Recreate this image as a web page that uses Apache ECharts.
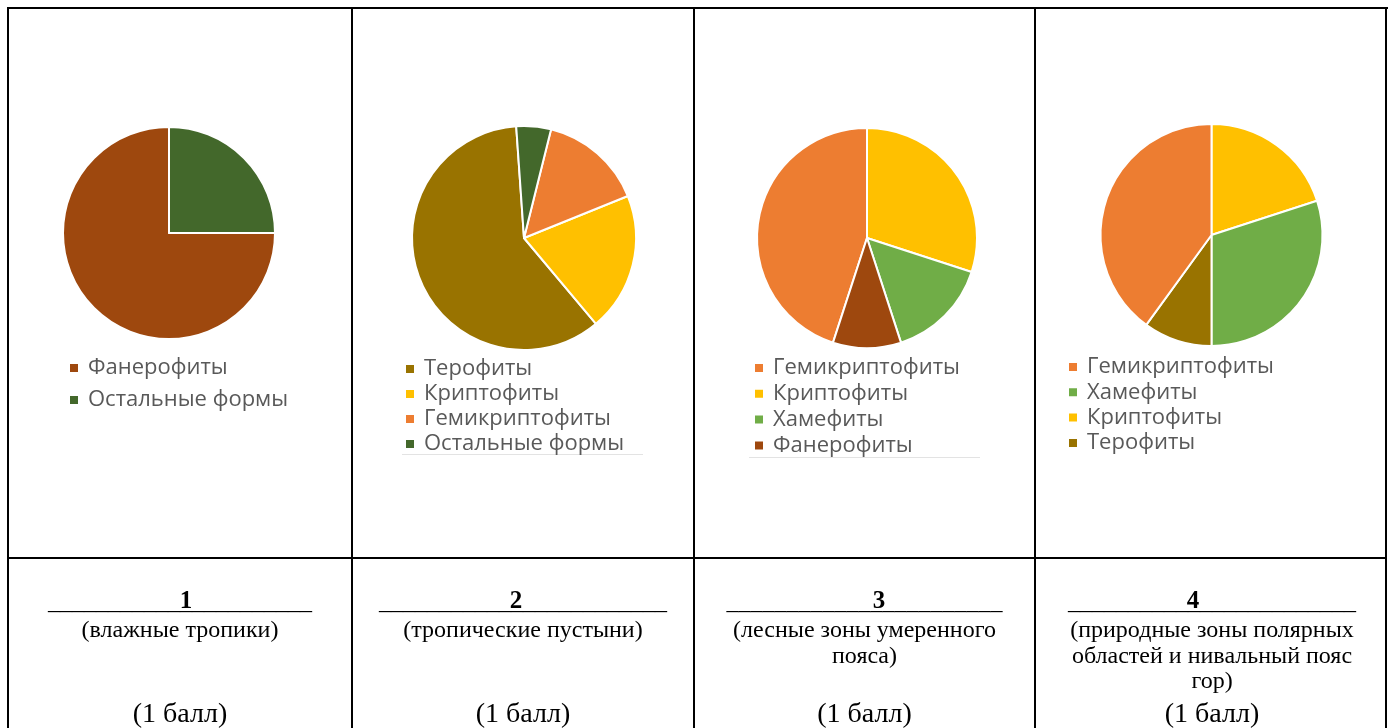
<!DOCTYPE html>
<html>
<head>
<meta charset="utf-8">
<script src="https://cdn.jsdelivr.net/npm/echarts@6/dist/echarts.min.js"></script>
<style>
  html, body { margin: 0; padding: 0; background: #fff; }
  #chart { width: 1394px; height: 728px; }
</style>
</head>
<body>
<div id="chart"></div>
<script>
// ---- Data ----
// Chart 1 (влажные тропики)
const pie1Names = ['Фанерофиты', 'Остальные формы'];
const pie1Values = [75, 25];
// Chart 2 (тропические пустыни)
const pie2Names = ['Терофиты', 'Криптофиты', 'Гемикриптофиты', 'Остальные формы'];
const pie2Values = [60, 20, 15, 5];
// Chart 3 (лесные зоны умеренного пояса)
const pie3Names = ['Гемикриптофиты', 'Криптофиты', 'Хамефиты', 'Фанерофиты'];
const pie3Values = [45, 30, 15, 10];
// Chart 4 (полярные области) — slice order (clockwise from top) and legend order
const pie4Names = ['Криптофиты', 'Хамефиты', 'Терофиты', 'Гемикриптофиты'];
const pie4Values = [20, 30, 10, 40];
const pie4Legend = ['Гемикриптофиты', 'Хамефиты', 'Криптофиты', 'Терофиты'];

// Bottom row texts
const zoneNumbers = ['1', '2', '3', '4'];
const zoneNames = [
  ['(влажные тропики)'],
  ['(тропические пустыни)'],
  ['(лесные зоны умеренного', 'пояса)'],
  ['(природные зоны полярных', 'областей и нивальный пояс', 'гор)']
];
const scoreText = '(1 балл)';

// ---- Styling ----
const colorMap = {
  'Фанерофиты': '#9E480E',
  'Остальные формы': '#43682B',
  'Терофиты': '#997300',
  'Криптофиты': '#FFC000',
  'Гемикриптофиты': '#ED7D31',
  'Хамефиты': '#70AD47'
};

function buildData(names, values) {
  return names.map((n, i) => ({ name: n, value: values[i], itemStyle: { color: colorMap[n] } }));
}

function pieSeries(names, values, center, radius, startAngle, clockwise) {
  return {
    type: 'pie',
    center: center,
    radius: radius,
    startAngle: startAngle,
    clockwise: clockwise,
    data: buildData(names, values),
    label: { show: false },
    labelLine: { show: false },
    itemStyle: { borderColor: '#ffffff', borderWidth: 2 },
    emphasis: { disabled: true },
    silent: true,
    animation: false
  };
}

const legendFont = { fontFamily: 'Open Sans', fontSize: 22, color: '#595959', lineHeight: 20, padding: [0, 0, 0, 4] };
function legend(data, left, top, gap) {
  return {
    orient: 'vertical', left: left, top: top, padding: 0,
    data: data, icon: 'rect', itemWidth: 10, itemHeight: 10, itemGap: gap,
    selectedMode: false, textStyle: legendFont
  };
}

// ---- Graphics: table and bottom texts ----
const graphics = [];
const lineColor = '#000';
function rect(x, y, w, h, fill) {
  graphics.push({ type: 'rect', silent: true, shape: { x: x, y: y, width: w, height: h }, style: { fill: fill || lineColor } });
}
// outer & inner borders
rect(7, 7, 1381, 2);
rect(7, 7, 2, 740);
rect(1385, 7, 2, 740);
[351, 693, 1034].forEach(x => rect(x, 7, 2, 740));
rect(7, 557, 1380, 2);
// faint lines under legends 2 and 3
rect(402, 454, 241, 1, '#e3e3e3');
rect(749, 457, 231, 1, '#e3e3e3');

const colCenters = [180, 523, 864.5, 1212];
const underscoreCounts = [22, 24, 23, 24];
const digitX = [186, 516, 879, 1193];
const serif = 'Liberation Serif';
for (let i = 0; i < 4; i++) {
  graphics.push({ type: 'text', silent: true, x: colCenters[i], y: 603,
    style: { text: '_'.repeat(underscoreCounts[i]), fontFamily: serif, fontSize: 24, fill: '#000', align: 'center', verticalAlign: 'middle' } });
  graphics.push({ type: 'text', silent: true, x: digitX[i], y: 602,
    style: { text: zoneNumbers[i], fontFamily: serif, fontSize: 25, fontWeight: 'bold', fill: '#000', align: 'center', verticalAlign: 'middle' } });
  zoneNames[i].forEach((line, j) => {
    graphics.push({ type: 'text', silent: true, x: colCenters[i], y: 631 + j * 25.5,
      style: { text: line, fontFamily: serif, fontSize: 24, fill: '#000', align: 'center', verticalAlign: 'middle' } });
  });
  graphics.push({ type: 'text', silent: true, x: colCenters[i], y: 715,
    style: { text: scoreText, fontFamily: serif, fontSize: 28, fill: '#000', align: 'center', verticalAlign: 'middle' } });
}

const chart = echarts.init(document.getElementById('chart'), null, { renderer: 'canvas' });
chart.setOption({
  backgroundColor: '#ffffff',
  animation: false,
  legend: [
    legend(pie1Names, 68, 357, 10),
    legend(pie2Names, 404, 358, 3),
    legend(pie3Names, 753, 357, 3.8),
    legend(pie4Legend, 1067, 356, 3.3)
  ],
  series: [
    pieSeries(pie1Names, pie1Values, [169, 233], 106, 90, false),
    pieSeries(pie2Names, pie2Values, [524, 238], 112, 94, false),
    pieSeries(pie3Names, pie3Values, [867, 238], 110, 252, true),
    pieSeries(pie4Names, pie4Values, [1211.5, 235], 111, 90, true)
  ],
  graphic: graphics
});
</script>
</body>
</html>
